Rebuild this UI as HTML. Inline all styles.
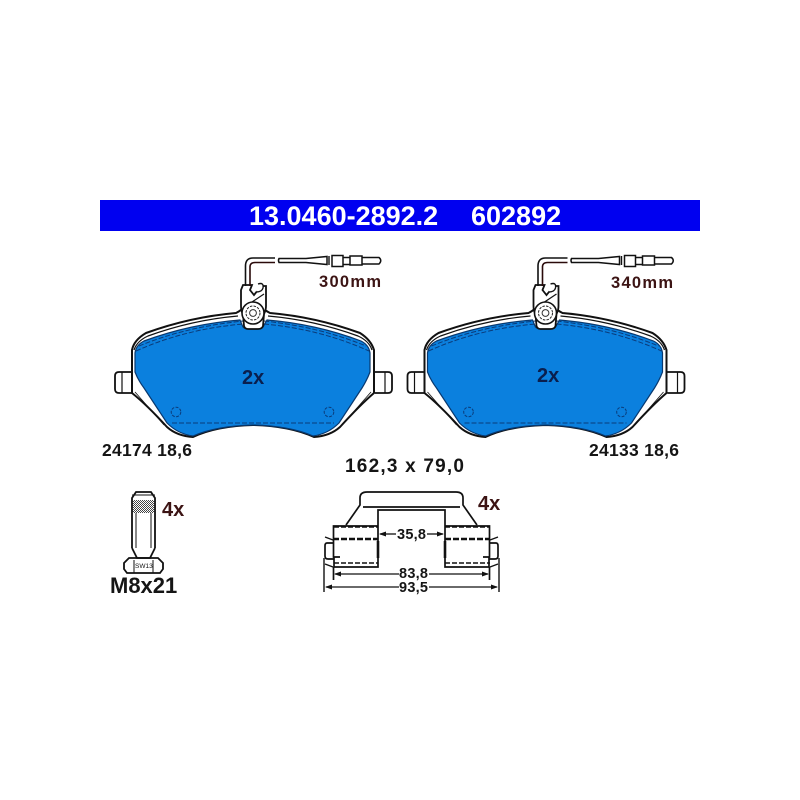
<!DOCTYPE html>
<html><head><meta charset="utf-8"><style>
html,body{margin:0;padding:0;background:#fff}
svg{display:block}
text{font-family:"Liberation Sans",sans-serif;font-weight:bold}
</style></head><body>
<svg width="800" height="800" viewBox="0 0 800 800" xmlns="http://www.w3.org/2000/svg">
<defs>
<pattern id="knurl" width="2" height="2" patternUnits="userSpaceOnUse">
<rect width="2" height="2" fill="#fff"/><rect width="1" height="1" fill="#444"/><rect x="1" y="1" width="1" height="1" fill="#444"/>
</pattern>
<g id="pad">
<!-- ears -->
<path d="M132 372H119Q115 372 115 376V389Q115 393 119 393H132" fill="#fff" stroke="#111" stroke-width="1.800"/>
<line x1="122" y1="372" x2="122" y2="393" stroke="#111" stroke-width="1.200"/>
<path d="M375 372H388Q392 372 392 376V389Q392 393 388 393H375" fill="#fff" stroke="#111" stroke-width="1.800"/>
<line x1="385" y1="372" x2="385" y2="393" stroke="#111" stroke-width="1.200"/>
<!-- backing plate -->
<path d="M132 393V350Q134 340 146 333Q190 317 236 313Q242 310 245 306H261Q264 310 270 313Q316 317 360 333Q371 340 374 350V393Q360 405 340 427Q330 436 314 437Q290 426 253 425Q216 426 193 437Q177 436 167 427Q147 405 132 393Z" fill="#fff" stroke="#111" stroke-width="2"/>
<!-- second outline -->
<path d="M134 350Q137 341 148 336Q192 320 238 316M268 316Q314 320 358 336Q369 341 372 350" fill="none" stroke="#111" stroke-width="1.200"/>
<!-- blue friction -->
<path d="M135 353Q136 345 144 341Q190 324 240 320L243 327Q245 329 248 329H258Q261 329 263 327L267 320Q316 324 361 341Q369 345 370 353V372Q367 380 362 388L339 423Q328 434 313 436Q290 426 253 425Q216 426 193 436Q178 434 167 423L144 388Q138 380 135 372Z" fill="#0b80de" stroke="#08386f" stroke-width="1.200"/>
<g fill="none" stroke="#0a3b7a" stroke-width="1" stroke-dasharray="5 2">
<path d="M136 351Q185 329 243 324"/>
<path d="M139 346Q185 327 243 321"/>
<path d="M264 324Q320 329 369 351"/>
<path d="M264 321Q320 327 366 346"/>
<path d="M172 423H334"/>
</g>
<g fill="none" stroke="#0a3b7a" stroke-width="1" stroke-dasharray="3 1.400">
<circle cx="176" cy="412" r="4.800"/>
<circle cx="329" cy="412" r="4.800"/>
</g>
<path d="M135 392L164 425" fill="none" stroke="#111" stroke-width=".8"/>
<path d="M371 392L342 425" fill="none" stroke="#111" stroke-width=".8"/>
<!-- sensor tab -->
<path d="M241 290V306Q241 311 243 314L244 326Q245 329 248 329H258Q262 329 263 326L264 314Q266 310 266 306V286H260L258 290L254 295L250 290L252 285H243Z" fill="#fff" stroke="#111" stroke-width="1.800"/>
<circle cx="253" cy="313" r="11" fill="#fff" stroke="#111" stroke-width="1.600"/>
<circle cx="253" cy="313" r="7" fill="none" stroke="#222" stroke-width="1" stroke-dasharray="2.500 1.200"/>
<circle cx="253" cy="313" r="3.400" fill="none" stroke="#333" stroke-width="1"/>
<path d="M258 284Q264 282 263 288Q262 292 256 292" fill="#fff" stroke="#111" stroke-width="1.400"/>
<path d="M252 302L264 294" fill="none" stroke="#111" stroke-width="1.200"/>
<!-- wire -->
<path d="M245.500 286V266Q245.500 258 253 258H275" fill="none" stroke="#111" stroke-width="1.600"/>
<path d="M250 286V267Q250 262.500 255 262.500H275" fill="none" stroke="#2a0a0a" stroke-width="1.600"/>
<path d="M279 258.500H306L327 256.500V264.500L306 262.500H279Q278 260.500 279 258.500Z" fill="#fff" stroke="#111" stroke-width="1.500"/>
<path d="M332 255.500H343V266.500H332ZM343 257.500H350V264.500H343ZM350 256H362V265H350ZM362 257.500H379Q382.500 260.500 379 264H362Z" fill="#fff" stroke="#111" stroke-width="1.500"/>
<line x1="329" y1="256" x2="329" y2="265" stroke="#111" stroke-width="1.400"/>
</g>
</defs>

<rect x="100" y="200" width="600" height="31" fill="#0000f0"/>
<text x="249" y="225" font-size="27" fill="#fff">13.0460-2892.2</text>
<text x="471" y="225" font-size="27" fill="#fff">602892</text>

<use href="#pad"/>
<use href="#pad" transform="translate(292.500 0)"/>

<text x="242" y="384" font-size="20" fill="#0a1f4e">2x</text>
<text x="537" y="382" font-size="20" fill="#0a1f4e">2x</text>
<text x="319" y="287" font-size="16.500" fill="#3c1414" textLength="62" lengthAdjust="spacing">300mm</text>
<text x="611" y="288" font-size="16.500" fill="#3c1414" textLength="62" lengthAdjust="spacing">340mm</text>
<text x="102" y="456" font-size="17.500" fill="#151515" textLength="90" lengthAdjust="spacing">24174 18,6</text>
<text x="589" y="456" font-size="17.500" fill="#151515" textLength="90" lengthAdjust="spacing">24133 18,6</text>
<text x="345" y="472" font-size="19" fill="#151515" textLength="119" lengthAdjust="spacing">162,3 x 79,0</text>

<!-- bolt -->
<g fill="none" stroke="#111" stroke-width="1.800">
<path d="M132 548V498L136 492H151L155 498V548"/>
<line x1="132" y1="495" x2="155" y2="495" stroke-width="1"/>
<rect x="133" y="500" width="21" height="13" fill="url(#knurl)" stroke="none"/>
<line x1="136" y1="513" x2="136" y2="548" stroke-width="1"/>
<line x1="151" y1="513" x2="151" y2="548" stroke-width="1"/>
<path d="M132 548L137 558H150L155 548"/>
<path d="M129 558H158L163 563V569L160 573H127L124 569V563Z"/>
<line x1="134" y1="560" x2="134" y2="573" stroke-width="1"/>
<line x1="153" y1="560" x2="153" y2="573" stroke-width="1"/>
</g>
<text x="135" y="568" font-size="6.500" fill="#111" style="font-weight:normal">SW13</text>
<text x="162" y="516" font-size="20" fill="#3c1414">4x</text>
<text x="110" y="593" font-size="22" fill="#151515">M8x21</text>

<!-- clip -->
<g fill="none" stroke="#111" stroke-width="1.700">
<path d="M346 525L360 505V498Q360 492 367 492H456Q463 492 463 498V505L477 525"/>
<line x1="363" y1="507" x2="460" y2="507"/>
<path d="M378 541V510H445V541"/>
<path d="M378 526H333.500V557H340"/>
<path d="M445 526H489.500V557H483"/>
<path d="M333.500 543H327Q325 543 325 546V556Q325 559 328 559H333.500"/>
<path d="M489.500 543H496Q498 543 498 546V556Q498 559 495 559H489.500"/>
<path d="M334 557V567H378V558"/>
<path d="M489 557V567H445V558"/>
<line x1="333.500" y1="567" x2="333.500" y2="580"/>
<line x1="489.500" y1="567" x2="489.500" y2="580"/>
<path d="M324 558V592M499 558V592" stroke-width="1.400"/>
</g>
<g fill="none" stroke="#111" stroke-width="2.400" stroke-dasharray="6 2">
<line x1="333" y1="539" x2="378" y2="539"/>
<line x1="445" y1="539" x2="490" y2="539"/>
</g>
<g fill="none" stroke="#111" stroke-width="1.400" stroke-dasharray="5 2">
<line x1="334" y1="527" x2="378" y2="527"/>
<line x1="445" y1="527" x2="490" y2="527"/>
<line x1="334" y1="563" x2="378" y2="563"/>
<line x1="445" y1="563" x2="490" y2="563"/>
</g>
<g stroke="#111" stroke-width="2.600">
<line x1="378" y1="541" x2="378" y2="558"/>
<line x1="445" y1="541" x2="445" y2="558"/>
</g>
<g stroke="#111" stroke-width="1.300">
<line x1="325" y1="537" x2="333" y2="540"/><line x1="498" y1="537" x2="490" y2="540"/>
<line x1="325" y1="564" x2="333" y2="567"/><line x1="498" y1="564" x2="490" y2="567"/>
<line x1="380" y1="534" x2="396" y2="534"/><line x1="427" y1="534" x2="443" y2="534"/>
<line x1="335" y1="574" x2="399" y2="574"/><line x1="429" y1="574" x2="488" y2="574"/>
<line x1="326" y1="587" x2="399" y2="587"/><line x1="429" y1="587" x2="497" y2="587"/>
</g>
<g fill="#111">
<path d="M379 534l7-2.500v5zM444 534l-7-2.500v5z"/>
<path d="M334 574l7-2.500v5zM489 574l-7-2.500v5z"/>
<path d="M325 587l7-2.500v5zM498 587l-7-2.500v5z"/>
</g>
<text x="397" y="539" font-size="14.500" fill="#151515" textLength="29">35,8</text>
<text x="399" y="578" font-size="14.500" fill="#151515" textLength="29">83,8</text>
<text x="399" y="592" font-size="14.500" fill="#151515" textLength="29">93,5</text>
<text x="478" y="510" font-size="20" fill="#3c1414">4x</text>
</svg>
</body></html>
